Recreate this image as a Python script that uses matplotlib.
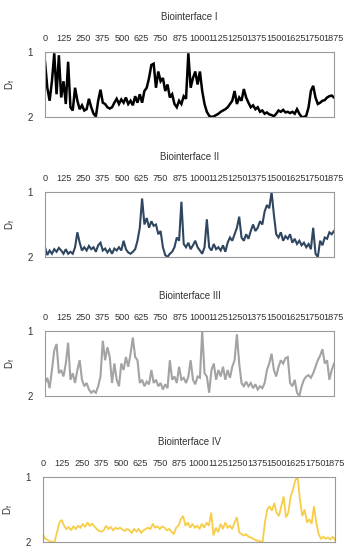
import numpy as np
import matplotlib
matplotlib.use("Agg")
import matplotlib.pyplot as plt

plt.rcParams['font.family'] = ['Liberation Sans Narrow', 'Liberation Sans', 'DejaVu Sans']
plt.rcParams['mathtext.default'] = 'regular'

titles = ["Biointerface I", "Biointerface II", "Biointerface III", "Biointerface IV"]
xticks = list(range(0, 1876, 125))
step = 15

df_1 = [1.15, 1.55, 1.75, 1.45, 1.02, 1.65, 1.05, 1.7, 1.45, 1.8,
        1.15, 1.85, 1.9, 1.55, 1.75, 1.88, 1.82, 1.9, 1.88, 1.72,
        1.85, 1.95, 1.99, 1.75, 1.58, 1.78, 1.8, 1.85, 1.87, 1.85,
        1.78, 1.72, 1.8, 1.73, 1.78, 1.7, 1.8, 1.75, 1.82, 1.68,
        1.78, 1.65, 1.78, 1.6, 1.55, 1.4, 1.2, 1.18, 1.55, 1.3,
        1.45, 1.4, 1.6, 1.5, 1.7, 1.65, 1.8, 1.85, 1.75, 1.8,
        1.68, 1.72, 1.02, 1.55, 1.4, 1.3, 1.5, 1.3, 1.6, 1.8,
        1.92, 1.98, 2.0, 1.99, 1.97, 1.95, 1.92, 1.9, 1.88, 1.85,
        1.8, 1.75, 1.6, 1.8, 1.7, 1.75, 1.57, 1.7, 1.78, 1.85,
        1.82, 1.88, 1.85, 1.92, 1.9, 1.95, 1.93, 1.96, 1.97, 1.99,
        1.95, 1.9, 1.92, 1.89, 1.93, 1.92, 1.94, 1.92, 1.95, 1.88,
        1.95, 2.0, 2.0, 1.98, 1.85, 1.6, 1.52, 1.7, 1.8, 1.78,
        1.75, 1.74, 1.7, 1.68, 1.67, 1.7]

df_2 = [1.85, 1.97, 1.9, 1.95, 1.88, 1.92, 1.86, 1.9, 1.95, 1.88,
        1.95, 1.92, 1.95, 1.85, 1.62, 1.78, 1.9, 1.85, 1.9, 1.83,
        1.88, 1.85, 1.92, 1.82, 1.78, 1.9, 1.87, 1.93, 1.88, 1.95,
        1.87, 1.9, 1.85, 1.9, 1.75, 1.88, 1.93, 1.95, 1.92, 1.88,
        1.75, 1.55, 1.1, 1.5, 1.4, 1.55, 1.45, 1.52, 1.5, 1.65,
        1.6, 1.85, 1.97, 2.0, 1.95, 1.92, 1.85, 1.7, 1.75, 1.15,
        1.8, 1.85, 1.78, 1.88, 1.82, 1.75, 1.85, 1.9, 1.95, 1.85,
        1.42, 1.85, 1.9, 1.8, 1.88, 1.85, 1.9, 1.82, 1.92, 1.78,
        1.7, 1.75, 1.65, 1.55, 1.38, 1.7, 1.75, 1.65, 1.72, 1.6,
        1.5, 1.6, 1.55, 1.45, 1.5, 1.3, 1.2, 1.25, 1.0, 1.35,
        1.65, 1.7, 1.62, 1.75, 1.68, 1.72, 1.65, 1.78, 1.72, 1.8,
        1.75, 1.82, 1.78, 1.85, 1.8, 1.88, 1.55, 1.95, 2.0, 1.75,
        1.82, 1.7, 1.72, 1.62, 1.65, 1.6]

df_3 = [1.8, 1.72, 1.88, 1.6, 1.3, 1.2, 1.65, 1.6, 1.7, 1.5,
        1.18, 1.75, 1.65, 1.8, 1.6, 1.45, 1.75, 1.85, 1.8, 1.9,
        1.95, 1.92, 1.95, 1.85, 1.7, 1.15, 1.45, 1.25, 1.4, 1.8,
        1.5, 1.75, 1.85, 1.5, 1.6, 1.4, 1.55, 1.35, 1.1, 1.4,
        1.45, 1.8, 1.75, 1.85, 1.78, 1.82, 1.6, 1.8, 1.75, 1.85,
        1.8, 1.9, 1.82, 1.88, 1.45, 1.75, 1.7, 1.8, 1.55, 1.75,
        1.72, 1.8, 1.7, 1.45, 1.75, 1.82, 1.7, 1.72, 1.0, 1.65,
        1.7, 1.95, 1.6, 1.5, 1.75, 1.6, 1.7, 1.55, 1.75, 1.6,
        1.72, 1.55, 1.45, 1.05, 1.5, 1.8, 1.85, 1.78, 1.85, 1.8,
        1.88, 1.82, 1.9, 1.85, 1.88, 1.8, 1.6, 1.5, 1.35, 1.6,
        1.7, 1.55, 1.45, 1.5, 1.42, 1.4, 1.8, 1.85, 1.75, 1.95,
        2.0, 1.85, 1.75, 1.7, 1.68, 1.72, 1.65, 1.55, 1.45, 1.38,
        1.28, 1.5, 1.45, 1.75, 1.6, 1.5]

df_4 = [1.88, 1.95, 1.97, 1.99, 2.0, 1.99, 1.85, 1.7, 1.66, 1.75,
        1.8, 1.77, 1.82, 1.76, 1.8, 1.75, 1.78, 1.72, 1.77, 1.7,
        1.75, 1.72, 1.76, 1.8, 1.83, 1.84, 1.82, 1.75, 1.8, 1.77,
        1.82, 1.78, 1.8, 1.78, 1.81, 1.83, 1.8, 1.82, 1.86, 1.8,
        1.84, 1.8, 1.86, 1.82, 1.8, 1.78, 1.8, 1.72, 1.78, 1.76,
        1.8, 1.76, 1.78, 1.82, 1.8, 1.84, 1.88, 1.78, 1.75, 1.65,
        1.6, 1.75, 1.7, 1.78, 1.72, 1.78, 1.75, 1.8, 1.72, 1.78,
        1.7, 1.75, 1.55, 1.9, 1.78, 1.85, 1.72, 1.8, 1.7, 1.78,
        1.75, 1.8, 1.7, 1.62, 1.85, 1.88, 1.9, 1.88, 1.92, 1.93,
        1.95, 1.97, 1.98, 1.99, 2.0, 1.7, 1.5, 1.45, 1.52, 1.4,
        1.55, 1.6, 1.45, 1.3, 1.62, 1.55, 1.3, 1.2, 1.05, 1.0,
        1.35, 1.6, 1.5, 1.7, 1.65, 1.72, 1.45, 1.7, 1.88, 1.95,
        1.92, 1.95, 1.93, 1.96, 1.92, 1.97]

series = [df_1, df_2, df_3, df_4]
colors = ["#000000", "#2f4660", "#a3a3a3", "#f7cd48"]
widths = [1.8, 1.5, 1.5, 1.3]

W, H = 353, 550
# (left, top, right, bottom) in pixels
boxes = [(45, 52, 334, 117), (45, 192, 334, 257), (45, 331, 334, 396), (43, 477, 335, 542)]

fig = plt.figure(figsize=(W / 100, H / 100), dpi=100)
for k in range(4):
    l, t, r, b = boxes[k]
    ax = fig.add_axes([l / W, 1 - b / H, (r - l) / W, (b - t) / H])
    y = np.array(series[k])
    x = np.arange(len(y)) * step
    ax.plot(x, y, color=colors[k], lw=widths[k], solid_joinstyle='miter')
    ax.set_xlim(0, 1875)
    ax.set_ylim(2, 1)
    ax.xaxis.tick_top()
    ax.set_xticks(xticks)
    ax.set_xticklabels([str(v) for v in xticks])
    ax.set_yticks([1, 2])
    ax.set_yticklabels(["1", "2"])
    ax.tick_params(axis='x', length=0, labelsize=6.6, colors="#333333", pad=6.5)
    ax.tick_params(axis='y', length=0, labelsize=7, colors="#333333", pad=9)
    for s in ax.spines.values():
        s.set_color("#9a9a9a")
        s.set_linewidth(0.8)
    ax.set_ylabel(r"D$_f$", fontsize=7, color="#333333", labelpad=7)
    ax.set_title(titles[k], fontsize=7, color="#333333", pad=23)

fig.savefig("out.png", dpi=100)
